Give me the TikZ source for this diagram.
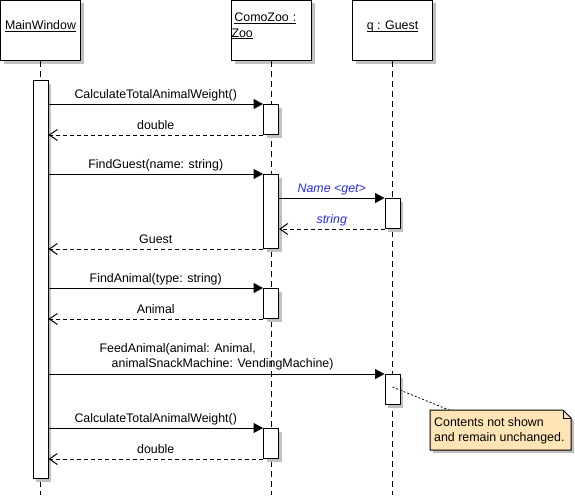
\documentclass[tikz,border=0pt]{standalone}
\usepackage{fontspec}
\setmainfont{Liberation Sans}
\usetikzlibrary{arrows.meta,shadows}

\definecolor{shadowgray}{RGB}{192,192,192}
\definecolor{notefill}{RGB}{255,228,181}
\definecolor{msgblue}{RGB}{40,40,255}
\newcommand{\objname}[1]{\underline{\smash{#1}}}

\begin{document}
\begin{tikzpicture}[x=1pt,y=-1pt,
  every node/.style={font=\fontsize{12.4}{15.5}\selectfont, inner sep=0pt},
  boxshadow/.style={drop shadow={shadow xshift=3pt, shadow yshift=-3pt, fill=shadowgray, opacity=1}},
  head/.style={draw, fill=white, line width=1pt, minimum width=80pt, minimum height=60pt, boxshadow},
  actbox/.style={draw, fill=white, line width=1pt, minimum width=15pt, anchor=north, boxshadow},
  life/.style={line width=1pt, dash pattern=on 6pt off 4pt},
  call/.style={line width=1pt, -{Triangle[length=9.5pt,width=10pt]}},
  reply/.style={line width=1pt, dash pattern=on 4pt off 3pt, -{Straight Barb[length=8pt,width=11pt]}},
  msg/.style={midway, anchor=base, yshift=5.5pt},
  getmsg/.style={msg, text=msgblue, font=\fontsize{12.4}{15.5}\selectfont\itshape},
  notelink/.style={line width=0.8pt, dash pattern=on 2pt off 2pt}]
\useasboundingbox (0,0) rectangle (575,503);

\node[head] (mw) at (40.5,30.5) {\objname{MainWindow}};
\node[head, text width=80pt, align=left] (zoo) at (271.5,30.5) {\hspace*{2.9pt}\objname{ComoZoo :}\\\objname{Zoo}};
\node[head] (g) at (392.5,30.5) {\objname{q : Guest}};

\coordinate (mwend) at (40.5,495);
\coordinate (zooend) at (271,495);
\coordinate (gend) at (392.5,495);
\draw[life] (mw.south) -- (mwend);
\draw[life] (zoo.south -| zooend) -- (zooend);
\draw[life] (g.south) -- (gend);

\node[actbox, minimum height=398pt] (mwa) at (40.5,80) {};
\node[actbox, minimum height=30pt] (za1) at (271,104) {};
\node[actbox, minimum height=74pt] (za2) at (271,174) {};
\node[actbox, minimum height=30pt] (ga1) at (392.5,198) {};
\node[actbox, minimum height=30pt] (za3) at (271,288) {};
\node[actbox, minimum height=30pt] (ga2) at (392.5,374) {};
\node[actbox, minimum height=30pt] (za4) at (271,428) {};

\draw[call] (mwa.east |- za1.north) -- (za1.north west) node[msg] {CalculateTotalAnimalWeight()};
\draw[reply] (za1.south west) -- (mwa.east |- za1.south) node[msg] {double};

\draw[call] (mwa.east |- za2.north) -- (za2.north west) node[msg] {FindGuest(name: string)};
\draw[call] (za2.east |- ga1.north) -- (ga1.north west) node[getmsg] {Name <get>};
\draw[reply] (ga1.south west) -- (za2.east |- ga1.south) node[getmsg] {string};
\draw[reply] (za2.south west) -- (mwa.east |- za2.south) node[msg] {Guest};

\draw[call] (mwa.east |- za3.north) -- (za3.north west) node[msg] {FindAnimal(type: string)};
\draw[reply] (za3.south west) -- (mwa.east |- za3.south) node[msg] {Animal};

\draw[call] (mwa.east |- ga2.north) -- (ga2.north west)
  node[midway, above=3pt, align=left] {FeedAnimal(animal: Animal,\\\hspace*{12.2pt}animalSnackMachine: VendingMachine)};

\draw[call] (mwa.east |- za4.north) -- (za4.north west) node[msg] {CalculateTotalAnimalWeight()};
\draw[reply] (za4.south west) -- (mwa.east |- za4.south) node[msg] {double};

\coordinate (np) at (392.5,387);
\coordinate (nq) at (449,410);
\draw[notelink] (np) -- (nq);

\fill[shadowgray] (433,413) -- (566,413) -- (574,421) -- (574,453) -- (433,453) -- cycle;
\filldraw[fill=notefill, line width=1pt] (430,410) -- (563,410) -- (571,418) -- (571,450) -- (430,450) -- cycle;
\draw[line width=0.8pt] (563,410) -- (563,418) -- (571,418);
\node[anchor=west, align=left] (note) at (434,430.8) {Contents not shown\\and remain unchanged.};
\end{tikzpicture}
\end{document}
